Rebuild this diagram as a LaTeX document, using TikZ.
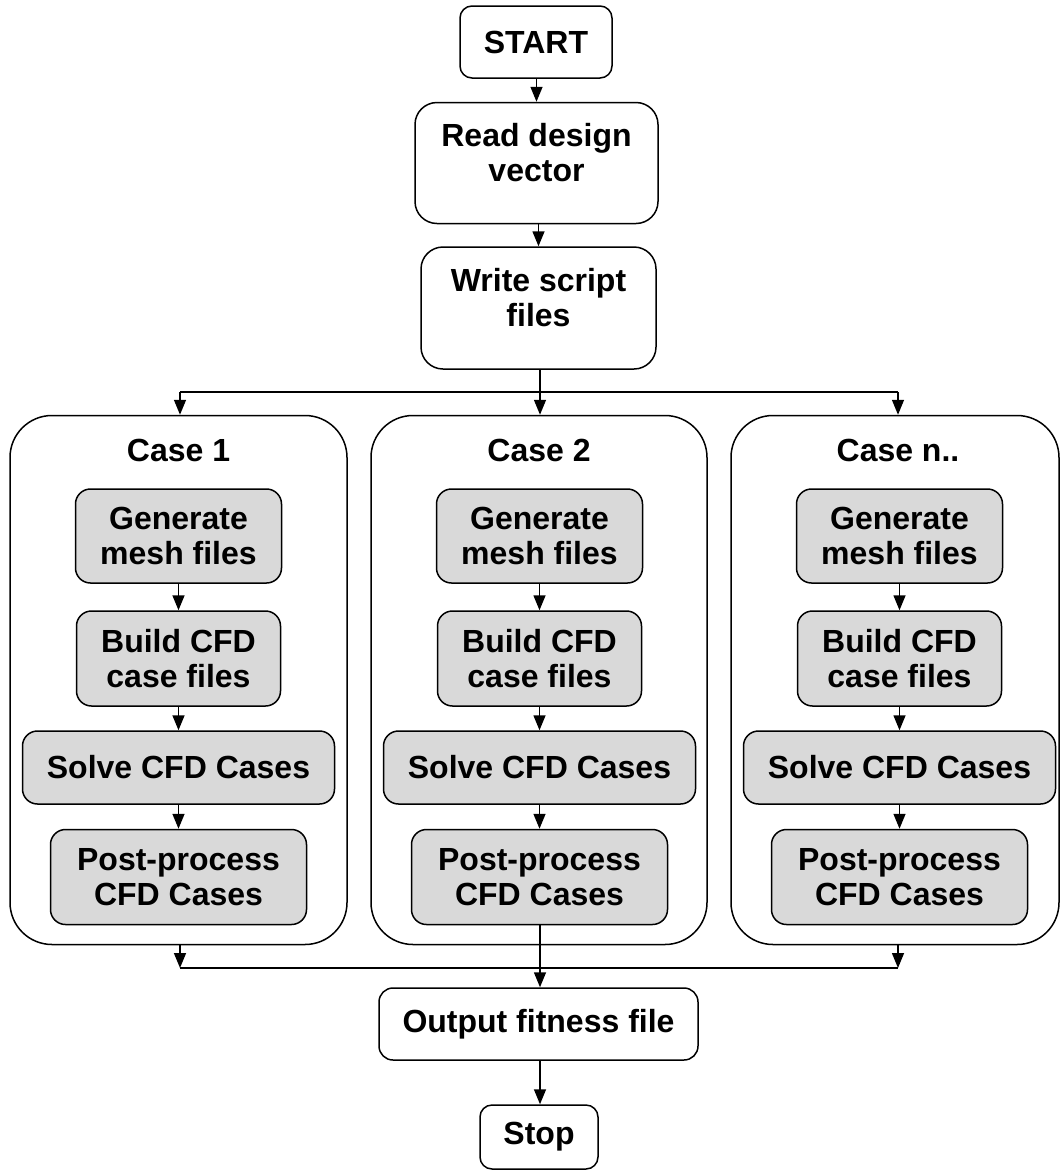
\documentclass[tikz,border=0pt]{standalone}
\usepackage{fontspec}
\setmainfont{Liberation Sans}
\usetikzlibrary{arrows.meta}
\definecolor{boxgray}{HTML}{D9D9D9}
\begin{document}
\begin{tikzpicture}[x=1pt,y=-1pt,
  every node/.style={font=\bfseries\fontsize{32}{35}\selectfont, align=center, inner sep=0pt},
  plainbox/.style={draw=black, line width=1.5pt, fill=white, rounded corners=#1},
  plainbox/.default=14pt,
  graybox/.style={draw=black, line width=1.5pt, fill=boxgray, rounded corners=15pt},
  casebox/.style={draw=black, line width=1.5pt, rounded corners=42pt},
  conn/.style={line width=1.5pt, -{Triangle[length=15pt,width=12pt]}},
  plainline/.style={line width=1.5pt}]
\useasboundingbox (0,0) rectangle (1061,1171);
\fill[white] (0,0) rectangle (1061,1171);

% main column
\node[plainbox=12pt, minimum width=152pt, minimum height=72pt] (start) at (536,42) {START};
\node[plainbox=22pt, minimum width=243pt, minimum height=121pt] (read) at (536.5,163) {Read design\\vector\\[-14pt]};
\node[plainbox=22pt, minimum width=235pt, minimum height=122pt] (write) at (538.5,308) {Write script\\files\\[-14pt]};

% case containers
\node[casebox, minimum width=337pt, minimum height=529pt] (c1) at (178.5,680) {};
\node[casebox, minimum width=336pt, minimum height=529pt] (c2) at (539,680) {};
\node[casebox, minimum width=328pt, minimum height=529pt] (c3) at (895,680) {};

\node (l1) at (178.5,450) {Case 1};
\node (l2) at (539,450) {Case 2};
\node (l3) at (898,450) {Case n..};

% inner boxes
\foreach \i/\cx in {1/178.5, 2/539.5, 3/899.5}{
  \node[graybox, minimum width=206pt, minimum height=94pt] (gen\i) at (\cx,536) {Generate\\mesh files};
  \node[graybox, minimum width=204pt, minimum height=95pt] (build\i) at (\cx,658.5) {Build CFD\\case files};
  \node[graybox, minimum width=312pt, minimum height=73pt] (solve\i) at (\cx,767.5) {Solve CFD Cases};
  \node[graybox, minimum width=256pt, minimum height=95pt] (post\i) at (\cx,877) {Post-process\\CFD Cases};
  \draw[conn] (gen\i) -- (build\i);
  \draw[conn] (build\i) -- (solve\i);
  \draw[conn] (solve\i) -- (post\i);
}

% bottom column
\node[plainbox=14pt, minimum width=319pt, minimum height=72pt] (out) at (538.5,1024) {Output fitness file};
\node[plainbox=12pt, minimum width=118pt, minimum height=64pt] (stop) at (539,1137) {Stop};

\draw[conn] (start.south -| read.north) -- (read);
\draw[conn] (read.south -| write.north) -- (write);

% split
\coordinate (sp) at (540,392);
\coordinate (spl) at (180,392);
\coordinate (spr) at (898,392);
\draw[plainline] (write.south -| sp) -- (sp);
\draw[plainline] (spl) -- (spr);
\draw[conn] (spl) -- (spl |- c1.north);
\draw[conn] (sp) -- (sp |- c2.north);
\draw[conn] (spr) -- (spr |- c3.north);

% merge
\coordinate (ml) at (180,968);
\coordinate (mr) at (898,968);
\draw[plainline] (ml) -- (mr);
\draw[conn] (ml |- c1.south) -- (ml);
\draw[conn] (mr |- c3.south) -- (mr);
\draw[conn] (post2.south -| sp) -- (sp |- out.north);
\draw[conn] (out.south -| sp) -- (sp |- stop.north);
\end{tikzpicture}
\end{document}
